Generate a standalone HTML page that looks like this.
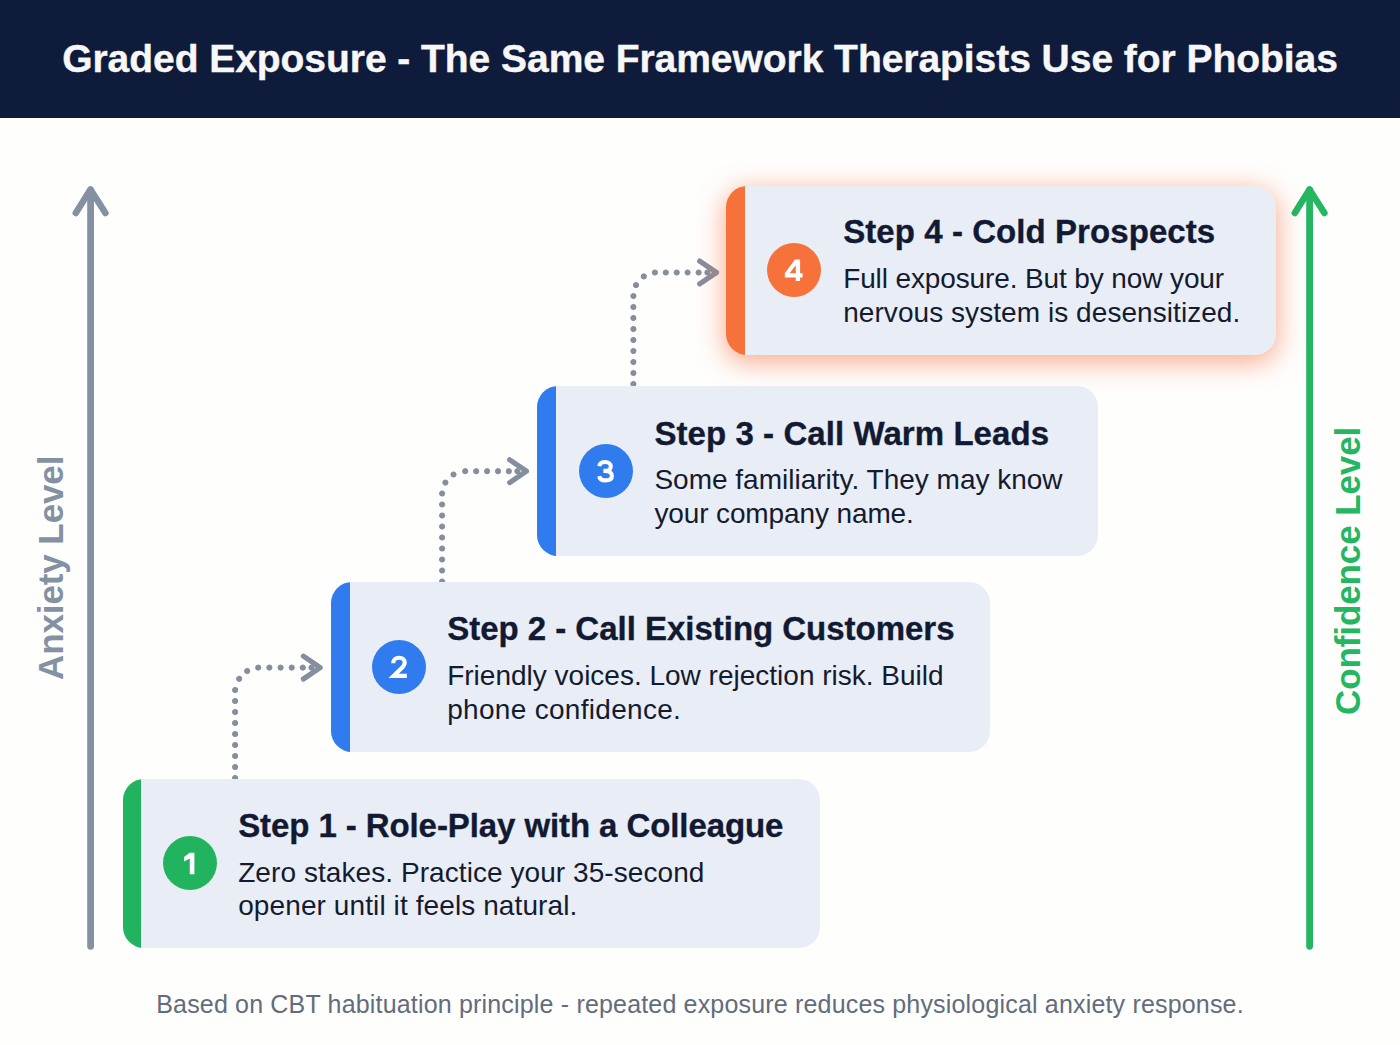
<!DOCTYPE html>
<html>
<head>
<meta charset="utf-8">
<style>
html,body{margin:0;padding:0;}
body{width:1400px;height:1045px;position:relative;overflow:hidden;background:#fefefd;font-family:"Liberation Sans",sans-serif;}
#hdr{position:absolute;left:0;top:0;width:1400px;height:118px;background:#0f1b3a;}
#ttl{position:absolute;left:0;top:-0.5px;width:1400px;text-align:center;color:#f7f7f7;-webkit-text-stroke:0.4px #f7f7f7;font-weight:bold;font-size:39px;letter-spacing:-0.05px;line-height:118px;white-space:nowrap;}
.card{position:absolute;height:169px;background:#e9edf5;border-radius:21px;overflow:hidden;}
.bar{position:absolute;left:0;top:0;bottom:0;width:19px;}
.num{position:absolute;width:54px;height:54px;border-radius:50%;color:#fff;font-weight:bold;font-size:29px;line-height:54px;text-align:center;top:var(--ct);left:var(--cl);}
.t{position:absolute;left:var(--tl);top:var(--tt,30.3px);color:#121a33;-webkit-text-stroke:0.35px #121a33;font-weight:bold;font-size:33px;white-space:nowrap;line-height:33px;}
.d{position:absolute;left:var(--tl);top:var(--dt,77px);color:#141b30;font-size:28px;white-space:nowrap;line-height:33.5px;}
.g{background:#22b35e;}
.b{background:#307cef;}
.o{background:#f7713a;}
#foot{position:absolute;left:0;width:1400px;text-align:center;top:991.8px;color:#626c7c;font-size:25px;letter-spacing:0.176px;line-height:25px;white-space:nowrap;}
.lbl{position:absolute;font-weight:bold;font-size:35px;white-space:nowrap;transform-origin:0 0;transform:rotate(-90deg);line-height:35px;}
</style>
</head>
<body>
<div id="hdr"></div>
<div id="ttl">Graded Exposure - The Same Framework Therapists Use for Phobias</div>

<svg width="1400" height="1045" style="position:absolute;left:0;top:0">
  <g fill="none" stroke-linecap="round" stroke-linejoin="round">
    <path d="M90.6 190 L90.6 946.3" stroke="#8491a3" stroke-width="6.8"/>
    <path d="M75.8 213 L90.5 189.5 L105.4 213" stroke="#8491a3" stroke-width="6.5"/>
    <path d="M1309.6 190 L1309.6 946.3" stroke="#24b661" stroke-width="6.8"/>
    <path d="M1294.8 213 L1309.5 189.5 L1324.4 213" stroke="#24b661" stroke-width="6.5"/>
  </g>
  <g fill="#858e9c" stroke="#858e9c">
    <circle cx="235.1" cy="690" r="2.6"/>
    <circle cx="235.1" cy="701" r="2.6"/>
    <circle cx="235.1" cy="712" r="2.6"/>
    <circle cx="235.1" cy="723" r="2.6"/>
    <circle cx="235.1" cy="734" r="2.6"/>
    <circle cx="235.1" cy="745" r="2.6"/>
    <circle cx="235.1" cy="756" r="2.6"/>
    <circle cx="235.1" cy="767" r="2.6"/>
    <circle cx="235.1" cy="778" r="2.6"/>
    <circle cx="239.2" cy="678.8" r="2.6"/>
    <circle cx="247.2" cy="671" r="2.6"/>
    <circle cx="258.2" cy="667.6" r="2.6"/>
    <circle cx="269.4" cy="667.6" r="2.6"/>
    <circle cx="280.6" cy="667.6" r="2.6"/>
    <circle cx="291.7" cy="667.6" r="2.6"/>
    <circle cx="302.8" cy="667.6" r="2.6"/>
    <circle cx="311.5" cy="667.6" r="2.6"/>
    <path d="M303.4 656.2 L320.2 667.6 L303.4 679.0" fill="none" stroke-width="5.2" stroke-linecap="round" stroke-linejoin="round"/>
    <circle cx="442.1" cy="493.5" r="2.6"/>
    <circle cx="442.1" cy="504.5" r="2.6"/>
    <circle cx="442.1" cy="515.5" r="2.6"/>
    <circle cx="442.1" cy="526.5" r="2.6"/>
    <circle cx="442.1" cy="537.5" r="2.6"/>
    <circle cx="442.1" cy="548.5" r="2.6"/>
    <circle cx="442.1" cy="559.5" r="2.6"/>
    <circle cx="442.1" cy="570.5" r="2.6"/>
    <circle cx="442.1" cy="581.5" r="2.6"/>
    <circle cx="445.4" cy="482.6" r="2.6"/>
    <circle cx="453.5" cy="474.5" r="2.6"/>
    <circle cx="465.2" cy="471.2" r="2.6"/>
    <circle cx="476.2" cy="471.2" r="2.6"/>
    <circle cx="487.1" cy="471.2" r="2.6"/>
    <circle cx="498" cy="471.2" r="2.6"/>
    <circle cx="508.8" cy="471.2" r="2.6"/>
    <circle cx="517.4" cy="471.2" r="2.6"/>
    <path d="M509.7 459.8 L526.5 471.2 L509.7 482.6" fill="none" stroke-width="5.2" stroke-linecap="round" stroke-linejoin="round"/>
    <circle cx="633.4" cy="296" r="2.6"/>
    <circle cx="633.4" cy="307" r="2.6"/>
    <circle cx="633.4" cy="318" r="2.6"/>
    <circle cx="633.4" cy="329" r="2.6"/>
    <circle cx="633.4" cy="340" r="2.6"/>
    <circle cx="633.4" cy="351" r="2.6"/>
    <circle cx="633.4" cy="362" r="2.6"/>
    <circle cx="633.4" cy="373" r="2.6"/>
    <circle cx="633.4" cy="384" r="2.6"/>
    <circle cx="636" cy="285.1" r="2.6"/>
    <circle cx="643.8" cy="276.4" r="2.6"/>
    <circle cx="654.9" cy="272.5" r="2.6"/>
    <circle cx="665.8" cy="272.5" r="2.6"/>
    <circle cx="676.7" cy="272.5" r="2.6"/>
    <circle cx="687.6" cy="272.5" r="2.6"/>
    <circle cx="698.6" cy="272.5" r="2.6"/>
    <circle cx="707.4" cy="272.5" r="2.6"/>
    <path d="M699.7 261.1 L716.5 272.5 L699.7 283.9" fill="none" stroke-width="5.2" stroke-linecap="round" stroke-linejoin="round"/>
  </g>
</svg>

<div class="card" id="c4" style="left:726px;top:186px;width:550px;height:168.5px;--tl:117.2px;--cl:41px;--ct:57.3px;--tt:29.4px;--dt:76.4px;box-shadow:0 6px 26px 2px rgba(248,110,60,0.55);">
  <div class="bar o"></div>
  <div class="num o"></div>
  <div class="t" id="t4" style="letter-spacing:0.07px">Step 4 - Cold Prospects</div>
  <div class="d" id="d4"><span style="letter-spacing:-0.12px">Full exposure. But by now your</span><br><span style="letter-spacing:0.06px">nervous system is desensitized.</span></div>
</div>
<div class="card" id="c3" style="left:537px;top:386.3px;width:561px;height:169.3px;--tl:117.4px;--cl:41.7px;--ct:58px;--dt:77px;">
  <div class="bar b"></div>
  <div class="num b"></div>
  <div class="t" id="t3" style="letter-spacing:0.07px">Step 3 - Call Warm Leads</div>
  <div class="d" id="d3"><span style="letter-spacing:0px">Some familiarity. They may know</span><br><span style="letter-spacing:-0.12px">your company name.</span></div>
</div>
<div class="card" id="c2" style="left:331px;top:582.2px;width:659.4px;height:169.6px;--tl:116.2px;--cl:41px;--ct:58px;--dt:77.3px;">
  <div class="bar b"></div>
  <div class="num b"></div>
  <div class="t" id="t2" style="letter-spacing:-0.02px">Step 2 - Call Existing Customers</div>
  <div class="d" id="d2"><span style="letter-spacing:0px">Friendly voices. Low rejection risk. Build</span><br><span style="letter-spacing:0.3px">phone confidence.</span></div>
</div>
<div class="card" id="c1" style="left:122.6px;top:779px;width:697.1px;--tl:115.6px;--cl:40.4px;--ct:57px;--dt:76.5px;">
  <div class="bar g" style="width:18.4px"></div>
  <div class="num g"></div>
  <div class="t" id="t1" style="letter-spacing:-0.09px">Step 1 - Role-Play with a Colleague</div>
  <div class="d" id="d1"><span style="letter-spacing:0.07px">Zero stakes. Practice your 35-second</span><br><span style="letter-spacing:0.1px">opener until it feels natural.</span></div>
</div>

<svg width="1400" height="1045" style="position:absolute;left:0;top:0">
  <g fill="#ffffff" stroke="none" fill-rule="evenodd">
    <path d="M184 857 L189.6 852.8 L194.4 852.8 L194.4 874.3 L189.8 874.3 L189.8 858.4 L184 861.6 Z"/>
    <path d="M784.8 273.3 L794.9 259.6 L800.1 259.6 L800.1 273.2 L802.6 273.2 L802.6 277.4 L800.1 277.4 L800.1 281.1 L795.8 281.1 L795.8 277.4 L784.8 277.4 Z M789.6 273.2 L795.8 273.2 L795.8 265.2 Z"/>
  </g>
  <g fill="none" stroke="#ffffff" stroke-width="4.1" stroke-linecap="butt" stroke-linejoin="miter">
    <path d="M393.2 663.2 C393.2 659.6 395.8 657.8 399.1 657.8 C402.4 657.8 404.7 659.8 404.7 662.7 C404.7 665.1 403.3 666.6 401.2 668.6 L393.6 675.9 L406.8 675.9"/>
    <path d="M599.3 466.2 C599.7 463.2 602.1 462 605.3 462 C608.6 462 610.8 463.9 610.8 466.5 C610.8 469 608.8 470.9 605.4 470.9 L603.4 470.9 M605.4 470.9 C609.6 470.9 611.9 473.1 611.9 476 C611.9 479 609.3 480.4 605.4 480.4 C601.9 480.4 599.6 479 599.2 476.1"/>
  </g>
</svg>

<div class="lbl" id="lblA" style="left:33.4px;top:679.5px;color:#8491a3;letter-spacing:-0.1px;">Anxiety Level</div>
<div class="lbl" id="lblC" style="left:1329.8px;top:714.5px;color:#24b661;letter-spacing:-0.1px;">Confidence Level</div>

<div id="foot">Based on CBT habituation principle - repeated exposure reduces physiological anxiety response.</div>
</body>
</html>
